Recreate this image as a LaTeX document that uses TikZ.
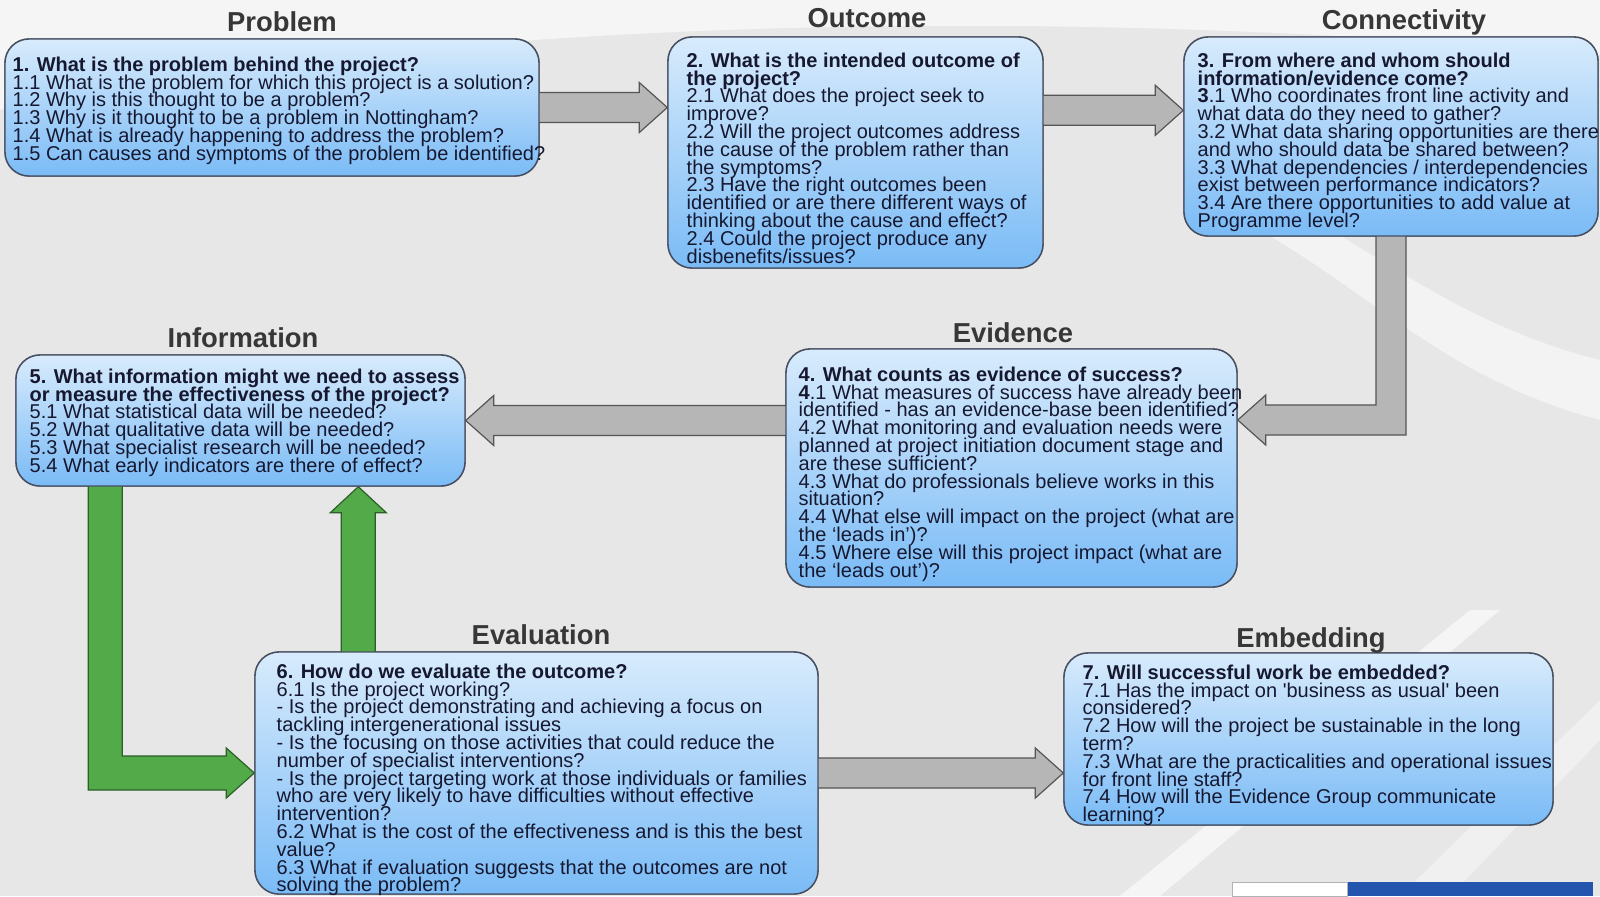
\documentclass[tikz,border=0pt]{standalone}
\usepackage{fontspec}
\setmainfont{Liberation Sans}
\usetikzlibrary{calc}

\begin{document}
\begin{tikzpicture}[x=0.5pt,y=-0.5pt,
    qbox/.style={shape=rectangle,rounded corners=12pt,draw=qcycle_line,line width=0.7pt,top color=qcycle_boxtop,bottom color=qcycle_boxbot,inner sep=0pt},
    qtext/.style={anchor=north west,inner sep=0pt,align=left,text=qcycle_text,font=\fontsize{10}{8.9}\selectfont\setlength{\lineskiplimit}{-8pt}},
    qtitle/.style={anchor=base,inner sep=0pt,text=qcycle_title,font=\fontsize{13.7}{14}\selectfont\bfseries},
    grayarrow/.style={fill=qcycle_arrow,draw=qcycle_arrowline,line width=0.6pt,line join=miter},
    greenarrow/.style={fill=qcycle_green,draw=qcycle_greenline,line width=0.6pt,line join=miter}]
    \definecolor{qcycle_bg}{RGB}{231,231,231}
    \definecolor{qcycle_boxtop}{RGB}{216,235,252}
    \definecolor{qcycle_boxbot}{RGB}{122,187,246}
    \definecolor{qcycle_line}{RGB}{70,78,96}
    \definecolor{qcycle_text}{RGB}{22,24,48}
    \definecolor{qcycle_title}{RGB}{55,55,55}
    \definecolor{qcycle_arrow}{RGB}{182,182,182}
    \definecolor{qcycle_arrowline}{RGB}{85,85,85}
    \definecolor{qcycle_green}{RGB}{82,170,72}
    \definecolor{qcycle_greenline}{RGB}{45,95,40}
    \definecolor{qcycle_logo}{RGB}{35,85,175}
    \useasboundingbox (0,0) rectangle (1600,896);
    % background
    \fill[qcycle_bg] (0,0) rectangle (1600,896);
    \fill[white,opacity=0.6] (0,110) .. controls (400,25) and (1000,0) .. (1600,55) -- (1600,0) -- (0,0) -- cycle;
    \fill[white,opacity=0.5] (1260,230) .. controls (1380,300) and (1450,380) .. (1600,420) -- (1600,360) .. controls (1480,330) and (1400,270) .. (1330,230) -- cycle;
    \fill[white,opacity=0.6] (1120,896) -- (1470,610) -- (1500,610) -- (1160,896) -- cycle;
    \fill[white,opacity=0.4] (1400,896) -- (1600,700) -- (1600,740) -- (1450,896) -- cycle;

    % boxes
    \node[qbox,minimum width=267pt,  minimum height=68.5pt]  (problem)      at (272,107.5)  {};
    \node[qbox,minimum width=187.5pt,minimum height=115.5pt] (outcome)      at (855.5,152.5) {};
    \node[qbox,minimum width=207pt,  minimum height=99.5pt]  (connectivity) at (1391,136.5) {};
    \node[qbox,minimum width=225.5pt,minimum height=119pt]   (evidence)     at (1011.5,468) {};
    \node[qbox,minimum width=224.5pt,minimum height=65.5pt]  (information)  at (240.5,420.5) {};
    \node[qbox,minimum width=281.5pt,minimum height=121pt]   (evaluation)   at (536.5,773)  {};
    \node[qbox,minimum width=244.5pt,minimum height=86pt]    (embedding)    at (1308.5,739) {};

    % arrows
    \filldraw[grayarrow] ($(problem.east)+(-2,-15)$) -- ($(outcome.west |- problem.east)+(-28,-15)$) -- ++(0,-10) -- (outcome.west |- problem.east) -- ++(-28,25) -- ++(0,-10) -- ($(problem.east)+(-2,15)$) -- cycle;
    \coordinate (o2c) at ($(outcome.north east)+(0,74)$);
    \filldraw[grayarrow] ($(o2c)+(-2,-15)$) -- ($(connectivity.west |- o2c)+(-28,-15)$) -- ++(0,-10) -- (connectivity.west |- o2c) -- ++(-28,25) -- ++(0,-10) -- ($(o2c)+(-2,15)$) -- cycle;
    \coordinate (c2e) at ($(evidence.east)+(0,-48)$);
    \filldraw[grayarrow] ($(connectivity.south)+(-15,-2)$) -- ($(connectivity.south |- c2e)+(-15,-15)$) -- ($(c2e)+(28,-15)$) -- ++(0,-10) -- (c2e) -- ++(28,25) -- ++(0,-10) -- ($(connectivity.south |- c2e)+(15,15)$) -- ($(connectivity.south)+(15,-2)$) -- cycle;
    \filldraw[grayarrow] ($(evidence.west |- information.east)+(2,-15)$) -- ($(information.east)+(28,-15)$) -- ++(0,-10) -- (information.east) -- ++(28,25) -- ++(0,-10) -- ($(evidence.west |- information.east)+(2,15)$) -- cycle;
    \filldraw[grayarrow] ($(evaluation.east)+(-2,-15)$) -- ($(embedding.west |- evaluation.east)+(-28,-15)$) -- ++(0,-10) -- (embedding.west |- evaluation.east) -- ++(-28,25) -- ++(0,-10) -- ($(evaluation.east)+(-2,15)$) -- cycle;
    \coordinate (ibend) at ($(information.south west)+(90,0)$);
    \filldraw[greenarrow] ($(ibend)+(-17,-2)$) -- ($(ibend |- evaluation.west)+(-17,17)$) -- ($(evaluation.west)+(-28,17)$) -- ++(0,8) -- (evaluation.west) -- ++(-28,-25) -- ++(0,8) -- ($(ibend |- evaluation.west)+(17,-17)$) -- ($(ibend)+(17,-2)$) -- cycle;
    \coordinate (e2i) at ($(information.south west)+(343,0)$);
    \filldraw[greenarrow] ($(e2i |- evaluation.north)+(-17,2)$) -- ($(e2i)+(-17,26)$) -- ++(-11,0) -- (e2i) -- ++(28,26) -- ++(-11,0) -- ($(e2i |- evaluation.north)+(17,2)$) -- cycle;

    % boxes again on top of arrow tails
    \node[qbox,minimum width=267pt,  minimum height=68.5pt]  at (problem)      {};
    \node[qbox,minimum width=187.5pt,minimum height=115.5pt] at (outcome)      {};
    \node[qbox,minimum width=207pt,  minimum height=99.5pt]  at (connectivity) {};
    \node[qbox,minimum width=225.5pt,minimum height=119pt]   at (evidence)     {};
    \node[qbox,minimum width=224.5pt,minimum height=65.5pt]  at (information)  {};
    \node[qbox,minimum width=281.5pt,minimum height=121pt]   at (evaluation)   {};
    \node[qbox,minimum width=244.5pt,minimum height=86pt]    at (embedding)    {};

    % titles
    \node[qtitle] (problemtitle)      at (282,31)   {Problem};
    \node[qtitle] (outcometitle)      at (867,27)   {Outcome};
    \node[qtitle] (connectivitytitle) at (1404,29)  {Connectivity};
    \node[qtitle] (informationtitle)  at (243,347)  {Information};
    \node[qtitle] (evidencetitle)     at (1013,342) {Evidence};
    \node[qtitle] (evaluationtitle)   at (541,644)  {Evaluation};
    \node[qtitle] (embeddingtitle)    at (1311,647) {Embedding};

    % questions
    \node[qtext] (problemtext) at ($(problem.north west)+(8,18)$) {\textbf{1. What is the problem behind the project?}\\
        1.1 What is the problem for which this project is a solution?\\
        1.2 Why is this thought to be a problem?\\
        1.3 Why is it thought to be a problem in Nottingham?\\
        1.4 What is already happening to address the problem?\\
        1.5 Can causes and symptoms of the problem be identified?};
    \node[qtext] (outcometext) at ($(outcome.north west)+(19,16)$) {\textbf{2. What is the intended outcome of}\\
        \textbf{the project?}\\
        2.1 What does the project seek to\\
        improve?\\
        2.2 Will the project outcomes address\\
        the cause of the problem rather than\\
        the symptoms?\\
        2.3 Have the right outcomes been\\
        identified or are there different ways of\\
        thinking about the cause and effect?\\
        2.4 Could the project produce any\\
        disbenefits/issues?};
    \node[qtext] (connectivitytext) at ($(connectivity.north west)+(14,16)$) {\textbf{3. From where and whom should}\\
        \textbf{information/evidence come?}\\
        \textbf{3}.1 Who coordinates front line activity and\\
        what data do they need to gather?\\
        3.2 What data sharing opportunities are there\\
        and who should data be shared between?\\
        3.3 What dependencies / interdependencies\\
        exist between performance indicators?\\
        3.4 Are there opportunities to add value at\\
        Programme level?};
    \node[qtext] (evidencetext) at ($(evidence.north west)+(13,18)$) {\textbf{4. What counts as evidence of success?}\\
        \textbf{4}.1 What measures of success have already been\\
        identified - has an evidence-base been identified?\\
        4.2 What monitoring and evaluation needs were\\
        planned at project initiation document stage and\\
        are these sufficient?\\
        4.3 What do professionals believe works in this\\
        situation?\\
        4.4 What else will impact on the project (what are\\
        the `leads in')?\\
        4.5 Where else will this project impact (what are\\
        the `leads out')?};
    \node[qtext] (informationtext) at ($(information.north west)+(14,14)$) {\textbf{5. What information might we need to assess}\\
        \textbf{or measure the effectiveness of the project?}\\
        5.1 What statistical data will be needed?\\
        5.2 What qualitative data will be needed?\\
        5.3 What specialist research will be needed?\\
        5.4 What early indicators are there of effect?};
    \node[qtext] (evaluationtext) at ($(evaluation.north west)+(22,12)$) {\textbf{6. How do we evaluate the outcome?}\\
        6.1 Is the project working?\\
        - Is the project demonstrating and achieving a focus on\\
        tackling intergenerational issues\\
        - Is the focusing on those activities that could reduce the\\
        number of specialist interventions?\\
        - Is the project targeting work at those individuals or families\\
        who are very likely to have difficulties without effective\\
        intervention?\\
        6.2 What is the cost of the effectiveness and is this the best\\
        value?\\
        6.3 What if evaluation suggests that the outcomes are not\\
        solving the problem?};
    \node[qtext] (embeddingtext) at ($(embedding.north west)+(19,12)$) {\textbf{7. Will successful work be embedded?}\\
        7.1 Has the impact on \textquotesingle business as usual\textquotesingle{} been\\
        considered?\\
        7.2 How will the project be sustainable in the long\\
        term?\\
        7.3 What are the practicalities and operational issues\\
        for front line staff?\\
        7.4 How will the Evidence Group communicate\\
        learning?};

    % logo strip
    \node[shape=rectangle,draw=gray!60,fill=white,minimum width=57.5pt,minimum height=7pt,anchor=north west,inner sep=0pt] (logoleft) at (1232,882) {};
    \node[shape=rectangle,fill=qcycle_logo,minimum width=122.5pt,minimum height=7pt,anchor=north west,inner sep=0pt] (logoright) at (logoleft.north east) {};
\end{tikzpicture}
\end{document}
